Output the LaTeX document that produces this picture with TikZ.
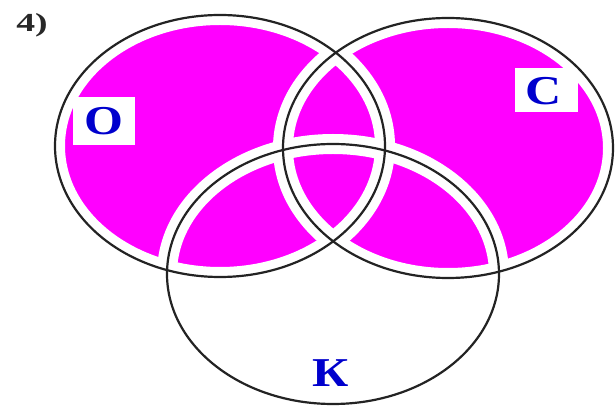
\documentclass[tikz,border=0pt]{standalone}
\usepackage{graphicx}
\usepackage{fontspec}
\setmainfont{Liberation Serif}
\begin{document}
\begin{tikzpicture}[x=1pt,y=-1pt]
\definecolor{mag}{RGB}{255,0,255}
\definecolor{lblblue}{RGB}{0,0,205}
\definecolor{inkline}{RGB}{35,35,35}
\definecolor{numgray}{RGB}{40,40,40}
\tikzset{
  setlabel/.style={text=lblblue,font=\bfseries\fontsize{41}{41}\selectfont,inner sep=0pt},
  labelbox/.style={fill=white,draw=none,inner sep=0pt},
  gap/.style={draw=white,line width=20pt},
  rim/.style={draw=inkline,line width=2.2pt}
}
\useasboundingbox (0,0) rectangle (616,411);
\fill[white] (0,0) rectangle (616,411);
% filled union O and C
\fill[mag] (220,146) ellipse [x radius=165pt, y radius=131pt];
\fill[mag] (448,148) ellipse [x radius=165pt, y radius=130pt];
% white margins along every arc
\draw[gap] (220,146) ellipse [x radius=165pt, y radius=131pt];
\draw[gap] (448,148) ellipse [x radius=165pt, y radius=130pt];
\draw[gap] (333,274) ellipse [x radius=166pt, y radius=130pt];
% white boxes behind labels
\node[labelbox,minimum width=62pt,minimum height=48pt] (boxO) at (104,121) {};
\node[labelbox,minimum width=63pt,minimum height=44pt] (boxC) at (546,90) {};
% outlines
\draw[rim] (220,146) ellipse [x radius=165pt, y radius=131pt];
\draw[rim] (448,148) ellipse [x radius=165pt, y radius=130pt];
\draw[rim] (333,274) ellipse [x radius=166pt, y radius=130pt];
% labels
\node[setlabel] (lblO) at (104,121) {\scalebox{1.22}[1]{О}};
\node[setlabel] (lblC) at (544,91) {\scalebox{1.22}[1]{С}};
\node[setlabel] (lblK) at (331,373) {\scalebox{1.22}[1]{К}};
\node[text=numgray,font=\bfseries\fontsize{26}{26}\selectfont,inner sep=0pt] (num) at (32,25) {\scalebox{1.45}[1]{4)}};
\end{tikzpicture}
\end{document}
